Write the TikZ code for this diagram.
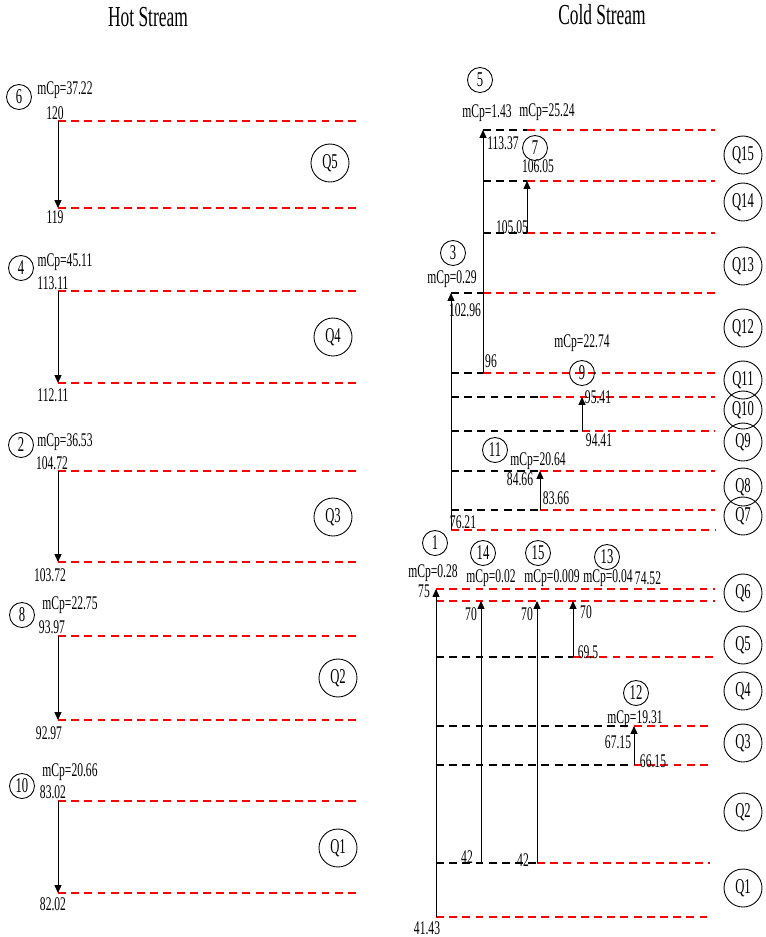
\documentclass[tikz,border=0pt]{standalone}
\usepackage{fontspec}
\setmainfont{Liberation Serif}[FakeStretch=0.6]
\usetikzlibrary{arrows.meta}

\begin{document}
\begin{tikzpicture}[
  x=0.02cm,
  y=-0.02cm,
  font=\fontsize{11}{12}\selectfont,
  >={Triangle[length=4.5pt,width=4pt]},
  title/.style={font=\fontsize{16.5}{18}\selectfont, inner sep=0pt},
  txt/.style={inner sep=0pt},
  num/.style={
    circle,
    draw,
    line width=0.5pt,
    minimum size=0.5cm,
    inner sep=0pt,
    font=\fontsize{12}{13}\selectfont
  },
  qbox/.style={
    num,
    minimum size=0.76cm
  },
  lvl/.style={
    line width=0.8pt,
    dash pattern=on 4.5pt off 3pt
  },
  redlvl/.style={lvl, draw=red},
  blklvl/.style={lvl, draw=black},
  flow/.style={->, line width=0.5pt}
]

\useasboundingbox (0,0) rectangle (766,937);

\node[title] (hot) at (148,17) {Hot Stream};
\node[title] (cold) at (602,15) {Cold Stream};

% hot side
\foreach \y in {121,208,291,383,471,562,636,720,801,893}
  \draw[redlvl] (58,\y) -- (357,\y);

\node[num] (h6) at (19,97) {6};
\node[txt] (m6) at (65,90) {mCp=37.22};
\node[txt] (t6a) at (55,113) {120};
\node[txt] (t6b) at (55,217) {119};
\coordinate (h6a) at (58,121);
\coordinate (h6b) at (58,208);
\draw[flow] (h6a) -- (h6b);
\node[qbox] (q5h) at (330,163) {Q5};

\node[num] (h4) at (21,268) {4};
\node[txt] (m4) at (65,262) {mCp=45.11};
\node[txt] (t4a) at (53,283) {113.11};
\node[txt] (t4b) at (53,395) {112.11};
\coordinate (h4a) at (58,291);
\coordinate (h4b) at (58,383);
\draw[flow] (h4a) -- (h4b);
\node[qbox] (q4h) at (333,337) {Q4};

\node[num] (h2) at (21,445) {2};
\node[txt] (m2) at (65,442) {mCp=36.53};
\node[txt] (t2a) at (52,463) {104.72};
\node[txt] (t2b) at (50,575) {103.72};
\coordinate (h2a) at (58,471);
\coordinate (h2b) at (58,562);
\draw[flow] (h2a) -- (h2b);
\node[qbox] (q3h) at (333,517) {Q3};

\node[num] (h8) at (22,615) {8};
\node[txt] (m8) at (70,605) {mCp=22.75};
\node[txt] (t8a) at (52,627) {93.97};
\node[txt] (t8b) at (49,733) {92.97};
\coordinate (h8a) at (58,636);
\coordinate (h8b) at (58,720);
\draw[flow] (h8a) -- (h8b);
\node[qbox] (q2h) at (338,678) {Q2};

\node[num] (h10) at (22,786) {10};
\node[txt] (m10) at (70,772) {mCp=20.66};
\node[txt] (t10a) at (53,792) {83.02};
\node[txt] (t10b) at (53,904) {82.02};
\coordinate (h10a) at (58,801);
\coordinate (h10b) at (58,893);
\draw[flow] (h10a) -- (h10b);
\node[qbox] (q1h) at (338,848) {Q1};

% cold side
\foreach \y/\xa/\xb/\xc in {130/483/527/715, 181/483/527/715, 233/483/527/715,
    293/451/483/715, 373/451/483/715, 397/451/540/715, 431/451/582/715,
    471/451/540/715, 510/451/540/715, 530/451/451/715,
    589/436/436/715, 601/436/436/715, 657/436/573/715, 726/436/634/710,
    765/436/634/710, 863/436/537/710, 917/436/436/710}{
  \draw[blklvl] (\xa,\y) -- (\xb,\y);
  \draw[redlvl] (\xb,\y) -- (\xc,\y);
}

\node[num] (c5) at (480,80) {5};
\node[txt] (m5) at (487,113) {mCp=1.43};
\node[txt] (t5a) at (503,143) {113.37};
\node[txt] (t5b) at (491,361) {96};
\coordinate (c5a) at (483,373);
\coordinate (c5b) at (483,130);
\draw[flow] (c5a) -- (c5b);

\node[num] (c7) at (535,148) {7};
\node[txt] (m7) at (547,112) {mCp=25.24};
\node[txt] (t7a) at (538,166) {106.05};
\node[txt] (t7b) at (512,227) {105.05};
\coordinate (c7a) at (527,233);
\coordinate (c7b) at (527,181);
\draw[flow] (c7a) -- (c7b);

\node[num] (c3) at (453,253) {3};
\node[txt] (m3) at (452,279) {mCp=0.29};
\node[txt] (t3a) at (465,310) {102.96};
\node[txt] (t3b) at (463,522) {76.21};
\coordinate (c3a) at (451,530);
\coordinate (c3b) at (451,293);
\draw[flow] (c3a) -- (c3b);

\node[num] (c9) at (582,373) {9};
\node[txt] (m9) at (582,343) {mCp=22.74};
\node[txt] (t9a) at (598,397) {95.41};
\node[txt] (t9b) at (599,440) {94.41};
\coordinate (c9a) at (582,431);
\coordinate (c9b) at (582,397);
\draw[flow] (c9a) -- (c9b);

\node[num] (c11) at (495,450) {11};
\node[txt] (m11) at (538,461) {mCp=20.64};
\node[txt] (t11a) at (520,479) {84.66};
\node[txt] (t11b) at (556,498) {83.66};
\coordinate (c11a) at (540,510);
\coordinate (c11b) at (540,471);
\draw[flow] (c11a) -- (c11b);

\node[num] (c1) at (435,543) {1};
\node[txt] (m1) at (433,573) {mCp=0.28};
\node[txt] (t1a) at (424,591) {75};
\node[txt] (t1b) at (427,928) {41.43};
\coordinate (c1a) at (436,917);
\coordinate (c1b) at (436,589);
\draw[flow] (c1a) -- (c1b);

\node[num] (c14) at (483,553) {14};
\node[txt] (m14) at (491,578) {mCp=0.02};
\node[txt] (t14a) at (471,614) {70};
\node[txt] (t14b) at (467,857) {42};
\coordinate (c14a) at (481,863);
\coordinate (c14b) at (481,601);
\draw[flow] (c14a) -- (c14b);

\node[num] (c15) at (538,553) {15};
\node[txt] (m15) at (552,578) {mCp=0.009};
\node[txt] (t15a) at (527,614) {70};
\node[txt] (t15b) at (523,860) {42};
\coordinate (c15a) at (537,863);
\coordinate (c15b) at (537,601);
\draw[flow] (c15a) -- (c15b);

\node[num] (c13) at (607,557) {13};
\node[txt] (m13) at (608,578) {mCp=0.04};
\node[txt] (m13b) at (648,578) {74.52};
\node[txt] (t13a) at (586,612) {70};
\node[txt] (t13b) at (588,652) {69.5};
\coordinate (c13a) at (573,657);
\coordinate (c13b) at (573,601);
\draw[flow] (c13a) -- (c13b);

\node[num] (c12) at (636,693) {12};
\node[txt] (m12) at (635,719) {mCp=19.31};
\node[txt] (t12a) at (618,742) {67.15};
\node[txt] (t12b) at (653,761) {66.15};
\coordinate (c12a) at (634,765);
\coordinate (c12b) at (634,726);
\draw[flow] (c12a) -- (c12b);

\node[qbox] (q15) at (743,155) {Q15};
\node[qbox] (q14) at (743,202) {Q14};
\node[qbox] (q13) at (743,266) {Q13};
\node[qbox] (q12) at (743,328) {Q12};
\node[qbox] (q11) at (743,380) {Q11};
\node[qbox] (q10) at (743,410) {Q10};
\node[qbox] (q9) at (743,442) {Q9};
\node[qbox] (q8) at (743,487) {Q8};
\node[qbox] (q7) at (743,516) {Q7};
\node[qbox] (q6) at (743,593) {Q6};
\node[qbox] (q5) at (743,645) {Q5};
\node[qbox] (q4) at (743,691) {Q4};
\node[qbox] (q3) at (743,743) {Q3};
\node[qbox] (q2) at (743,812) {Q2};
\node[qbox] (q1) at (743,888) {Q1};

\end{tikzpicture}
\end{document}
